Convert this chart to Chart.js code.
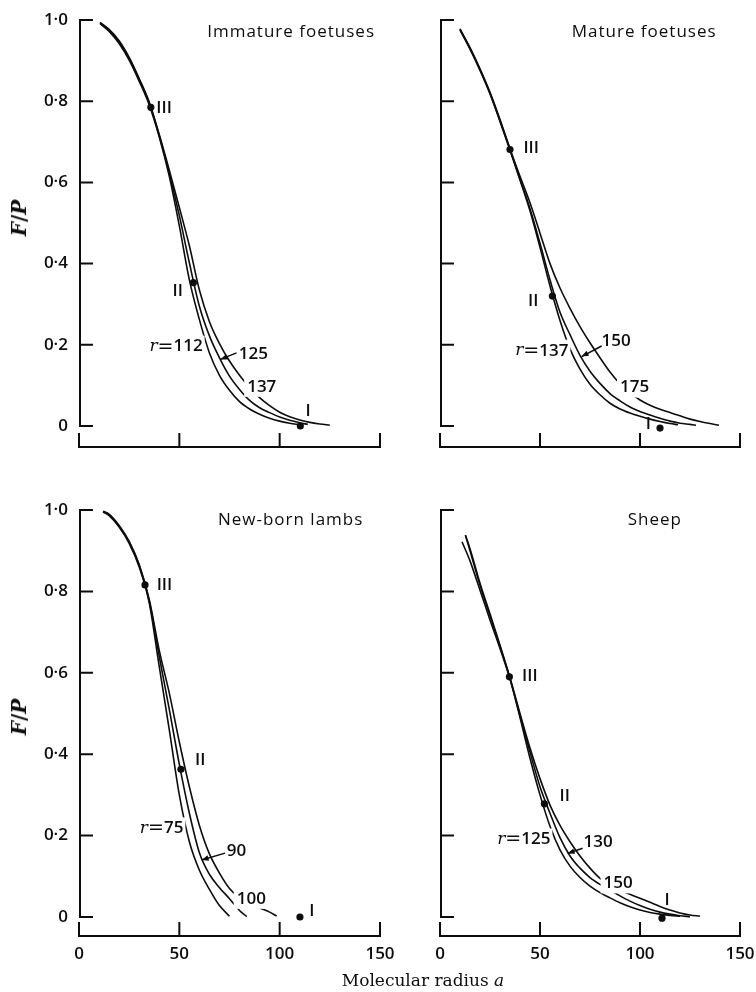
<!DOCTYPE html>
<html>
<head>
<meta charset="utf-8">
<script src="https://cdn.jsdelivr.net/npm/chart.js@4/dist/chart.umd.min.js"></script>
<style>
  html, body { margin: 0; padding: 0; background: #fff; }
  body { width: 756px; height: 992px; position: relative; overflow: hidden; }
  canvas { position: absolute; }
  .ytitle { position: absolute; font: bold 20px "DejaVu Serif", serif; color: #0d0d0d;
            transform: translate(-50%, -50%) rotate(-90deg); white-space: nowrap; }
  .xtitle { position: absolute; font: 17px "DejaVu Serif", serif; color: #0d0d0d;
            transform: translate(-50%, -50%); white-space: nowrap; }
</style>
</head>
<body>
<canvas id="c0" width="404" height="470" style="left:0px;top:0px"></canvas>
<canvas id="c1" width="364" height="470" style="left:392px;top:0px"></canvas>
<canvas id="c2" width="404" height="502" style="left:0px;top:490px"></canvas>
<canvas id="c3" width="364" height="502" style="left:392px;top:490px"></canvas>
<div class="ytitle" style="left:19px;top:218px"><i>F</i>/<i>P</i></div>
<div class="ytitle" style="left:19px;top:717px"><i>F</i>/<i>P</i></div>
<div class="xtitle" style="left:423px;top:980px">Molecular radius <i>a</i></div>
<script>
// ---------------- data ----------------
const xTickValues = [0, 50, 100, 150];
const yTickValues = [0, 0.2, 0.4, 0.6, 0.8, 1.0];
const yTickLabels = ['0', '0·2', '0·4', '0·6', '0·8', '1·0'];
const panelTitles = ['Immature foetuses', 'Mature foetuses', 'New-born lambs', 'Sheep'];
const pointNames = ['III', 'II', 'I'];

// Immature foetuses, pore radii r
const immRadii = [112, 125, 137];
const immX112 = [10.5,15,20,25,30,35,40,45,50,55,60,65,70,75,80,85,90,95,100,105,110];
const immY112 = [0.991,0.972,0.942,0.901,0.849,0.791,0.712,0.615,0.493,0.36,0.262,0.18,0.125,0.088,0.06,0.042,0.029,0.019,0.012,0.007,0.003];
const immX125 = [10.5,15,20,25,30,35,40,45,50,55,60,65,70,75,80,85,90,95,100,105,110,114];
const immY125 = [0.993,0.975,0.946,0.905,0.853,0.795,0.715,0.622,0.518,0.402,0.295,0.222,0.168,0.123,0.09,0.063,0.045,0.033,0.022,0.014,0.008,0.004];
const immX137 = [10.5,15,20,25,30,35,40,45,50,55,60,65,70,75,80,85,90,95,100,105,110,115,120,125];
const immY137 = [0.994,0.977,0.949,0.908,0.856,0.798,0.718,0.63,0.538,0.444,0.335,0.257,0.203,0.16,0.125,0.095,0.07,0.05,0.034,0.023,0.015,0.009,0.005,0.002];
const immPointX = [35.8, 57, 110.3];
const immPointY = [0.785, 0.353, 0];

// Mature foetuses
const matRadii = [137, 150, 175];
const matX137 = [10,15,20,25,30,35,40,45,50,55,60,65,70,75,80,85,90,95,100,105,110,115,119];
const matY137 = [0.975,0.928,0.876,0.818,0.75,0.679,0.606,0.53,0.44,0.345,0.26,0.19,0.14,0.103,0.077,0.056,0.042,0.032,0.024,0.017,0.011,0.006,0.003];
const matX150 = [10,15,20,25,30,35,40,45,50,55,60,65,70,75,80,85,90,95,100,105,110,115,120,125,128];
const matY150 = [0.977,0.93,0.878,0.82,0.752,0.681,0.608,0.535,0.45,0.36,0.28,0.225,0.174,0.135,0.105,0.08,0.062,0.047,0.036,0.027,0.019,0.012,0.007,0.004,0.002];
const matX175 = [10,15,20,25,30,35,40,45,50,55,60,65,70,75,80,85,90,95,100,105,110,115,120,125,130,135,139.5];
const matY175 = [0.978,0.932,0.88,0.822,0.755,0.683,0.615,0.55,0.475,0.4,0.34,0.29,0.245,0.205,0.168,0.133,0.104,0.082,0.064,0.051,0.041,0.033,0.025,0.017,0.011,0.006,0.002];
const matPointX = [35, 56.2, 110];
const matPointY = [0.681, 0.32, -0.005];

// New-born lambs
const lambRadii = [75, 90, 100];
const lambX75 = [12,15,20,25,30,35,40,45,50,55,60,65,70,75];
const lambY75 = [0.995,0.986,0.958,0.918,0.86,0.772,0.615,0.46,0.3,0.185,0.115,0.068,0.028,0.002];
const lambX90 = [12,15,20,25,30,35,40,45,50,55,60,65,70,75,80,83.6];
const lambY90 = [0.996,0.988,0.96,0.921,0.864,0.776,0.64,0.51,0.375,0.255,0.158,0.105,0.072,0.045,0.016,0.001];
const lambX100 = [12,15,20,25,30,35,40,45,50,55,60,65,70,75,80,85,90,95,98.5];
const lambY100 = [0.997,0.99,0.962,0.923,0.866,0.78,0.655,0.55,0.43,0.32,0.225,0.155,0.108,0.07,0.047,0.032,0.022,0.012,0.002];
const lambPointX = [32.9, 50.8, 110.1];
const lambPointY = [0.816, 0.363, 0];

// Sheep
const sheepRadii = [125, 130, 150];
const sheepX125 = [11,15,20,25,30,35,40,45,50,55,60,65,70,75,80,85,90,95,100,105,110,115,120];
const sheepY125 = [0.922,0.875,0.803,0.73,0.66,0.585,0.49,0.39,0.3,0.223,0.165,0.125,0.097,0.076,0.06,0.047,0.035,0.025,0.017,0.011,0.007,0.004,0.002];
const sheepX130 = [12.7,15,20,25,30,35,40,45,50,55,60,65,70,75,80,85,90,95,100,105,110,115,120,125];
const sheepY130 = [0.938,0.9,0.815,0.74,0.665,0.585,0.495,0.405,0.32,0.255,0.195,0.15,0.12,0.097,0.08,0.066,0.052,0.039,0.028,0.019,0.012,0.007,0.003,0.001];
const sheepX150 = [12.7,15,20,25,30,35,40,45,50,55,60,65,70,75,80,85,90,95,100,105,110,115,120,125,130];
const sheepY150 = [0.938,0.905,0.82,0.745,0.668,0.588,0.5,0.415,0.34,0.275,0.225,0.185,0.15,0.12,0.095,0.08,0.067,0.056,0.046,0.036,0.026,0.017,0.01,0.005,0.002];
const sheepPointX = [34.7, 52.2, 111];
const sheepPointY = [0.59, 0.278, -0.003];

// ---------------- styling / layout ----------------
const INK = '#0d0d0d';
const SANS = '"Open Sans", "DejaVu Sans", sans-serif';
const SERIF = '"DejaVu Serif", serif';
const FS = 17;
const FW = 600;

const layouts = [
  { id: 'c0', padR: 24, yW: 79, xH: 23, yMin: -0.0517, showX: false, showY: true },
  { id: 'c1', padR: 16, yW: 48, xH: 23, yMin: -0.0517, showX: false, showY: false },
  { id: 'c2', padR: 24, yW: 79, xH: 56, yMin: -0.0467, showX: true,  showY: true },
  { id: 'c3', padR: 16, yW: 48, xH: 56, yMin: -0.0467, showX: true,  showY: false }
];

function rLabel(v) {
  return [
    { t: 'r', f: 'italic ' + FS + 'px ' + SERIF },
    { t: '=', f: '19px "DejaVu Sans", sans-serif' },
    { t: String(v), f: FW + ' ' + FS + 'px ' + SANS }
  ];
}
function sLabel(t) { return [{ t: t, f: FW + ' ' + FS + 'px ' + SANS }]; }

const panels = [
  {
    curves: [[immX112, immY112], [immX125, immY125], [immX137, immY137]],
    px: immPointX, py: immPointY,
    title: { text: panelTitles[0], x: 147.5, y: 0.973 },
    labels: [
      { parts: sLabel(pointNames[0]), x: 38.5, y: 0.785, align: 'left' },
      { parts: sLabel(pointNames[1]), x: 51.8, y: 0.335, align: 'right' },
      { parts: sLabel(pointNames[2]), x: 114.2, y: 0.038, align: 'center' },
      { parts: rLabel(immRadii[0]), x: 61.6, y: 0.198, align: 'right', bg: true },
      { parts: sLabel(String(immRadii[1])), x: 79.6, y: 0.18, align: 'left' },
      { parts: sLabel(String(immRadii[2])), x: 83.8, y: 0.099, align: 'left', bg: true }
    ],
    arrow: { x1: 78.5, y1: 0.18, x2: 70.5, y2: 0.164 }
  },
  {
    curves: [[matX137, matY137], [matX150, matY150], [matX175, matY175]],
    px: matPointX, py: matPointY,
    title: { text: panelTitles[1], x: 138.3, y: 0.973 },
    labels: [
      { parts: sLabel(pointNames[0]), x: 41.7, y: 0.688, align: 'left' },
      { parts: sLabel(pointNames[1]), x: 49.2, y: 0.31, align: 'right' },
      { parts: sLabel(pointNames[2]), x: 104.2, y: 0.008, align: 'center' },
      { parts: rLabel(matRadii[0]), x: 64.2, y: 0.188, align: 'right', bg: true },
      { parts: sLabel(String(matRadii[1])), x: 80.8, y: 0.211, align: 'left' },
      { parts: sLabel(String(matRadii[2])), x: 90, y: 0.097, align: 'left', bg: true }
    ],
    arrow: { x1: 80.8, y1: 0.197, x2: 70.8, y2: 0.171 }
  },
  {
    curves: [[lambX75, lambY75], [lambX90, lambY90], [lambX100, lambY100]],
    px: lambPointX, py: lambPointY,
    title: { text: panelTitles[2], x: 141.7, y: 0.978 },
    labels: [
      { parts: sLabel(pointNames[0]), x: 38.7, y: 0.818, align: 'left' },
      { parts: sLabel(pointNames[1]), x: 57.8, y: 0.388, align: 'left' },
      { parts: sLabel(pointNames[2]), x: 116, y: 0.017, align: 'center' },
      { parts: rLabel(lambRadii[0]), x: 52, y: 0.22, align: 'right', bg: true },
      { parts: sLabel(String(lambRadii[1])), x: 73.6, y: 0.163, align: 'left' },
      { parts: sLabel(String(lambRadii[2])), x: 78.6, y: 0.047, align: 'left', bg: true }
    ],
    arrow: { x1: 72.8, y1: 0.157, x2: 61.1, y2: 0.14 }
  },
  {
    curves: [[sheepX125, sheepY125], [sheepX130, sheepY130], [sheepX150, sheepY150]],
    px: sheepPointX, py: sheepPointY,
    title: { text: panelTitles[3], x: 121, y: 0.978 },
    labels: [
      { parts: sLabel(pointNames[0]), x: 41, y: 0.595, align: 'left' },
      { parts: sLabel(pointNames[1]), x: 59.8, y: 0.30, align: 'left' },
      { parts: sLabel(pointNames[2]), x: 113.5, y: 0.044, align: 'center' },
      { parts: rLabel(sheepRadii[0]), x: 55.2, y: 0.193, align: 'right', bg: true },
      { parts: sLabel(String(sheepRadii[1])), x: 71.8, y: 0.186, align: 'left' },
      { parts: sLabel(String(sheepRadii[2])), x: 81.8, y: 0.085, align: 'left', bg: true }
    ],
    arrow: { x1: 71.3, y1: 0.169, x2: 63.8, y2: 0.156 }
  }
];

// ---------------- drawing helpers ----------------
function drawParts(ctx, px, py, lab, spacing) {
  ctx.textBaseline = 'middle';
  ctx.textAlign = 'left';
  if ('letterSpacing' in ctx) ctx.letterSpacing = spacing || '0px';
  let w = 0;
  const widths = lab.parts.map(p => { ctx.font = p.f; const m = ctx.measureText(p.t).width; w += m; return m; });
  let x = lab.align === 'right' ? px - w : (lab.align === 'center' ? px - w / 2 : px);
  if (lab.bg) {
    ctx.fillStyle = '#fff';
    ctx.fillRect(x - 3, py - 10, w + 5, 21);
  }
  ctx.fillStyle = INK;
  lab.parts.forEach((p, i) => { ctx.font = p.f; ctx.fillText(p.t, x, py + 1); x += widths[i]; });
  if ('letterSpacing' in ctx) ctx.letterSpacing = '0px';
}

function makeDeco(panel) {
  return {
    id: 'panelDeco',
    afterDatasetsDraw(chart) {
      const ctx = chart.ctx, xs = chart.scales.x, ys = chart.scales.y;
      const X = v => xs.getPixelForValue(v), Y = v => ys.getPixelForValue(v);
      ctx.save();
      ctx.strokeStyle = INK;
      ctx.lineWidth = 2;
      ctx.lineCap = 'square';
      const yb = chart.chartArea.bottom;
      ctx.beginPath();
      ctx.moveTo(X(xTickValues[0]), yb);
      ctx.lineTo(X(xTickValues[xTickValues.length - 1]), yb);
      xTickValues.forEach(v => { ctx.moveTo(X(v), yb); ctx.lineTo(X(v), yb - 13); });
      const ax = X(0) + 1;
      ctx.moveTo(ax, Y(yTickValues[0]));
      ctx.lineTo(ax, Y(yTickValues[yTickValues.length - 1]));
      yTickValues.forEach(v => { ctx.moveTo(ax, Y(v)); ctx.lineTo(ax + 12, Y(v)); });
      ctx.stroke();

      // labels
      panel.labels.forEach(l => drawParts(ctx, X(l.x), Y(l.y), l));
      drawParts(ctx, X(panel.title.x), Y(panel.title.y),
        { parts: [{ t: panel.title.text, f: '500 ' + FS + 'px ' + SANS }], align: 'right' }, '1px');

      // arrow
      const a = panel.arrow;
      const x1 = X(a.x1), y1 = Y(a.y1), x2 = X(a.x2), y2 = Y(a.y2);
      ctx.lineWidth = 1.5;
      ctx.lineCap = 'butt';
      ctx.beginPath(); ctx.moveTo(x1, y1); ctx.lineTo(x2, y2); ctx.stroke();
      const ang = Math.atan2(y2 - y1, x2 - x1), L = 7, H = 2.8;
      ctx.fillStyle = INK;
      ctx.beginPath();
      ctx.moveTo(x2, y2);
      ctx.lineTo(x2 - L * Math.cos(ang) + H * Math.sin(ang), y2 - L * Math.sin(ang) - H * Math.cos(ang));
      ctx.lineTo(x2 - L * Math.cos(ang) - H * Math.sin(ang), y2 - L * Math.sin(ang) + H * Math.cos(ang));
      ctx.closePath(); ctx.fill();
      ctx.restore();
    }
  };
}

// ---------------- charts ----------------
panels.forEach((panel, i) => {
  const lay = layouts[i];
  const datasets = panel.curves.map(([xs, ys]) => ({
    data: xs.map((x, k) => ({ x: x, y: ys[k] })),
    showLine: true,
    borderColor: INK,
    borderWidth: 1.6,
    pointRadius: 0,
    cubicInterpolationMode: 'monotone',
    fill: false
  }));
  datasets.push({
    data: panel.px.map((x, k) => ({ x: x, y: panel.py[k] })),
    showLine: false,
    pointRadius: 3.6,
    pointBackgroundColor: INK,
    pointBorderColor: INK,
    pointBorderWidth: 0
  });

  new Chart(document.getElementById(lay.id), {
    type: 'scatter',
    data: { datasets: datasets },
    options: {
      responsive: false,
      animation: false,
      devicePixelRatio: 1,
      layout: { padding: { left: 0, right: lay.padR, top: 20, bottom: 0 } },
      plugins: { legend: { display: false }, tooltip: { enabled: false }, title: { display: false } },
      scales: {
        x: {
          type: 'linear', min: 0, max: 150,
          grid: { display: false, drawTicks: false },
          border: { display: false },
          afterBuildTicks: s => { s.ticks = xTickValues.map(v => ({ value: v })); },
          afterFit: s => { s.height = lay.xH; s.paddingLeft = 0; s.paddingRight = 0; s.paddingTop = 0; s.paddingBottom = 0; },
          ticks: {
            display: lay.showX, padding: 8, maxRotation: 0, autoSkip: false,
            color: INK, font: { family: SANS, size: FS, weight: FW },
            callback: v => String(v)
          }
        },
        y: {
          type: 'linear', min: lay.yMin, max: 1,
          grid: { display: false, drawTicks: false },
          border: { display: false },
          afterBuildTicks: s => { s.ticks = yTickValues.map(v => ({ value: v })); },
          afterFit: s => { s.width = lay.yW; s.paddingTop = 0; s.paddingBottom = 0; },
          ticks: {
            display: lay.showY, padding: 11, autoSkip: false,
            color: INK, font: { family: SANS, size: FS, weight: FW },
            callback: v => { const k = yTickValues.indexOf(v); return k >= 0 ? yTickLabels[k] : ''; }
          }
        }
      }
    },
    plugins: [makeDeco(panel)]
  });
});
</script>
</body>
</html>
